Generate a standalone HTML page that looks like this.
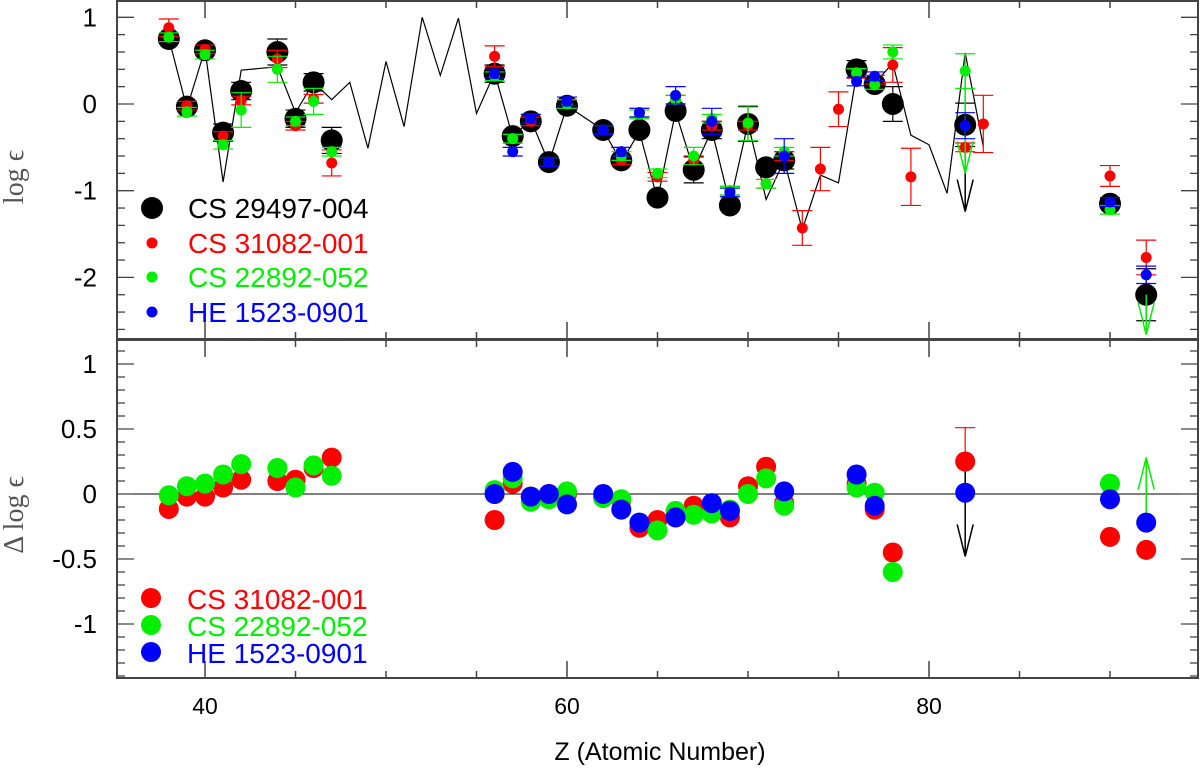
<!DOCTYPE html>
<html><head><meta charset="utf-8"><style>
html,body{margin:0;padding:0;background:#fff;}
svg{display:block;font-family:"Liberation Sans",sans-serif;}
</style></head><body>
<svg id="chart" width="1200" height="774" viewBox="0 0 1200 774" xmlns="http://www.w3.org/2000/svg">
<g id="grid"></g>
<g id="marks"></g>
<g id="frames"></g>
<text x="660" y="760" font-size="25" text-anchor="middle">Z (Atomic Number)</text>
<text transform="translate(23,177) rotate(-90)" font-size="28" text-anchor="middle" fill="#555" font-family="Liberation Serif, serif">log ϵ</text>
<text transform="translate(23,515) rotate(-90)" font-size="28" text-anchor="middle" fill="#555" font-family="Liberation Serif, serif">Δ log ϵ</text>
<g>
<circle cx="152" cy="208" r="11" fill="#000"/><text x="188" y="218" font-size="28" fill="#000">CS 29497-004</text>
<circle cx="152" cy="243" r="5.5" fill="#f00"/><text x="188" y="253" font-size="28" fill="#f00">CS 31082-001</text>
<circle cx="152" cy="277" r="5.5" fill="#0e0"/><text x="188" y="287" font-size="28" fill="#0e0">CS 22892-052</text>
<circle cx="152" cy="312" r="5.5" fill="#00f"/><text x="188" y="322" font-size="28" fill="#00f">HE 1523-0901</text>
</g>
<g>
<circle cx="151" cy="598" r="10" fill="#f00"/><text x="187" y="609" font-size="28" fill="#f00">CS 31082-001</text>
<circle cx="151" cy="625" r="10" fill="#0e0"/><text x="187" y="636" font-size="28" fill="#0e0">CS 22892-052</text>
<circle cx="151" cy="652" r="10" fill="#00f"/><text x="187" y="663" font-size="28" fill="#00f">HE 1523-0901</text>
</g>
</svg>
<script>
// solar r-process scaled pattern
const solarZ=[38,39,40,41,42,43,44,45,46,47,48,49,50,51,52,53,54,55,56,57,58,59,60,61,62,63,64,65,66,67,68,69,70,71,72,73,74,75,76,77,78,79,80,81,82,83];
const solarV=[0.76,-0.05,0.63,-0.9,0.39,0.41,0.43,-0.1,0.25,0.05,0.25,-0.51,0.49,-0.26,1.0,0.33,0.99,-0.11,0.36,-0.38,-0.18,-0.68,-0.02,-0.16,-0.3,-0.67,-0.32,-1.1,-0.09,-0.76,-0.3,-1.15,-0.22,-1.1,-0.65,-1.45,-0.82,-0.91,0.35,0.24,0.47,-0.36,-0.47,-1.03,0.59,-0.49];
const blackZ=[38,39,40,41,42,44,45,46,47,56,57,58,59,60,62,63,64,65,66,67,68,69,70,71,72,76,77,78,82,90,92];
const blackV=[0.75,-0.03,0.62,-0.33,0.15,0.6,-0.17,0.25,-0.42,0.35,-0.37,-0.2,-0.67,-0.02,-0.3,-0.65,-0.3,-1.08,-0.08,-0.76,-0.3,-1.17,-0.23,-0.73,-0.65,0.4,0.23,0.0,-0.24,-1.15,-2.2];
const blackE=[0.05,0.03,0.03,0.1,0.1,0.15,0.1,0.1,0.15,0.1,0.05,0.05,0.05,0.05,0.05,0.05,0.05,0.05,0.05,0.15,0.1,0.05,0.2,0.05,0.1,0.1,0.05,0.2,0.25,0.05,0.3];
const redZ=[38,39,40,41,42,44,45,46,47,56,57,58,59,60,62,63,64,65,66,67,68,69,70,71,72,73,74,75,76,77,78,79,82,83,90,92];
const redV=[0.88,-0.02,0.63,-0.37,0.04,0.52,-0.25,0.06,-0.68,0.55,-0.4,-0.2,-0.67,0.0,-0.3,-0.65,-0.1,-0.84,0.05,-0.65,-0.25,-1.0,-0.25,-0.92,-0.6,-1.43,-0.75,-0.06,0.35,0.28,0.45,-0.84,-0.5,-0.23,-0.83,-1.77];
const redE=[0.1,0.05,0.05,0.05,0.05,0.1,0.05,0.05,0.15,0.12,0.05,0.05,0.05,0.05,0.05,0.05,0.05,0.05,0.05,0.05,0.05,0.05,0.05,0.05,0.05,0.2,0.25,0.2,0.05,0.05,0.2,0.33,0.05,0.33,0.12,0.2];
const greenZ=[38,39,40,41,42,44,45,46,47,56,57,58,59,60,62,63,64,65,66,67,68,69,70,71,72,76,77,78,82,90];
const greenV=[0.77,-0.09,0.57,-0.47,-0.07,0.4,-0.2,0.03,-0.55,0.32,-0.4,-0.17,-0.67,0.0,-0.3,-0.6,-0.12,-0.8,0.05,-0.6,-0.17,-1.0,-0.22,-0.92,-0.55,0.36,0.22,0.6,0.38,-1.22];
const greenE=[0.05,0.05,0.05,0.05,0.2,0.15,0.05,0.15,0.05,0.05,0.05,0.05,0.05,0.05,0.05,0.05,0.05,0.05,0.05,0.1,0.05,0.05,0.2,0.05,0.05,0.05,0.05,0.08,0.2,0.05];
const blueZ=[56,57,58,59,60,62,63,64,66,68,69,72,76,77,82,90,92];
const blueV=[0.35,-0.55,-0.17,-0.67,0.03,-0.3,-0.55,-0.1,0.1,-0.2,-1.02,-0.6,0.26,0.32,-0.25,-1.13,-1.97];
const blueE=[0.05,0.05,0.05,0.05,0.05,0.05,0.05,0.05,0.1,0.15,0.05,0.2,0.05,0.05,0.15,0.05,0.1];
// residuals
const dRedZ=[38,39,40,41,42,44,45,46,47,56,57,58,59,60,62,63,64,65,66,67,68,69,70,71,72,76,77,78,82,90,92];
const dRedV=[-0.115,-0.02,-0.02,0.05,0.11,0.1,0.11,0.2,0.28,-0.2,0.08,-0.02,0.0,0.0,-0.03,-0.05,-0.26,-0.2,-0.18,-0.09,-0.1,-0.18,0.06,0.21,-0.07,0.08,-0.12,-0.45,0.25,-0.33,-0.43];
const dGreenZ=[38,39,40,41,42,44,45,46,47,56,57,58,59,60,62,63,64,65,66,67,68,69,70,71,72,76,77,78,90];
const dGreenV=[-0.01,0.06,0.08,0.15,0.23,0.2,0.05,0.22,0.14,0.03,0.12,-0.06,-0.04,0.02,-0.03,-0.04,-0.22,-0.28,-0.13,-0.16,-0.15,-0.12,0.0,0.12,-0.09,0.05,0.01,-0.6,0.08];
const dBlueZ=[56,57,58,59,60,62,63,64,66,68,69,72,76,77,82,90,92];
const dBlueV=[0.0,0.17,-0.02,0.0,-0.08,0.0,-0.12,-0.22,-0.18,-0.07,-0.13,0.02,0.15,-0.09,0.01,-0.04,-0.22];
const xTicks=[40,60,80];

const NS="http://www.w3.org/2000/svg";
const X=z=>205+(z-40)*18.1;
const YT=v=>104-v*86.7;
const YB=v=>494-v*130;
const marks=document.getElementById('marks');
const grid=document.getElementById('grid');
const frames=document.getElementById('frames');
function mk(tag,attrs,parent){const e=document.createElementNS(NS,tag);for(const k in attrs)e.setAttribute(k,attrs[k]);parent.appendChild(e);return e;}

const L=117,R=1198,T1=1,B1=339,T2=340,B2=678;
let f=mk('rect',{x:L,y:T1,width:R-L,height:B1-T1,fill:'none',stroke:'#444','stroke-width':2},frames);


f=mk('rect',{x:L,y:T2,width:R-L,height:B2-T2,fill:'none',stroke:'#444','stroke-width':2},frames);



for(let z=40;z<=90;z+=5){
  const len=(z%20===0)?17:7;
  const x=X(z);
  [[T1,1],[B1,-1],[T2,1],[B2,-1]].forEach(([y,d])=>{
    const t=mk('line',{x1:x,x2:x,y1:y,y2:y+d*len,stroke:'#444','stroke-width':1.5},frames);
    
    
  });
}
xTicks.forEach(z=>{
  const t=mk('text',{x:X(z),y:714,'font-size':23,'text-anchor':'middle'},frames);
  t.textContent=z;
  
  
});
for(let i=-13;i<=6;i++){
  const v=i*0.2;const y=YT(v);if(y<T1+1||y>B1-1)continue;
  const len=(i%5===0)?17:8;
  [[L,1],[R,-1]].forEach(([x,d])=>{
    const t=mk('line',{x1:x,x2:x+d*len,y1:y,y2:y,stroke:'#444','stroke-width':1.3},frames);
    
    
  });
}
[1,0,-1,-2].forEach(v=>{
  const t=mk('text',{x:97,y:YT(v)+9,'font-size':26,'text-anchor':'end'},frames);
  t.textContent=v;
  
  
});
for(let i=-14;i<=11;i++){
  const v=i*0.1;const y=YB(v);if(y<T2+1||y>B2-1)continue;
  const len=(i%5===0)?17:8;
  [[L,1],[R,-1]].forEach(([x,d])=>{
    const t=mk('line',{x1:x,x2:x+d*len,y1:y,y2:y,stroke:'#444','stroke-width':1.3},frames);
    
    
  });
}
[[1,'1'],[0.5,'0.5'],[0,'0'],[-0.5,'-0.5'],[-1,'-1']].forEach(([v,s])=>{
  const t=mk('text',{x:97,y:YB(v)+9,'font-size':26,'text-anchor':'end'},frames);
  t.textContent=s;
  
  
});
let zl=mk('line',{x1:L,x2:R,y1:YB(0),y2:YB(0),stroke:'#000','stroke-width':1},grid);



let pl=mk('polyline',{points:solarZ.map((z,i)=>X(z)+','+YT(solarV[i])).join(' '),fill:'none',stroke:'#000','stroke-width':1.2},marks);



function arrow(x,y1,y2,color,name){
  const g=mk('g',{stroke:color,'stroke-width':1.5,fill:'none'},marks);
  
  
  mk('line',{x1:x,x2:x,y1:y1,y2:y2},g);
  const d=y2>y1?-1:1;
  mk('polyline',{points:(x-8)+','+(y2+d*32)+' '+x+','+y2+' '+(x+8)+','+(y2+d*32)},g);
}
function series(Zs,Vs,Es,color,r,Y,name){
  Zs.forEach((z,i)=>{
    const x=X(z),y=Y(Vs[i]);
    if(Es){
      const e=Es[i];
      const g=mk('g',{stroke:color,'stroke-width':1.2},marks);
      
      
      mk('line',{x1:x,x2:x,y1:Y(Vs[i]+e),y2:Y(Vs[i]-e)},g);
      mk('line',{x1:x-10,x2:x+10,y1:Y(Vs[i]+e),y2:Y(Vs[i]+e)},g);
      mk('line',{x1:x-10,x2:x+10,y1:Y(Vs[i]-e),y2:Y(Vs[i]-e)},g);
    }
    const c=mk('circle',{cx:x,cy:y,r:r,fill:color},marks);
    
    
  });
}
series(blackZ,blackV,blackE,'#000',11,YT,'cs29497');
arrow(X(82),YT(-0.24),YT(-1.24),'#000','cs29497-upper-limit-arrow');
series(redZ,redV,redE,'#f00',5.5,YT,'cs31082');
arrow(X(82),YT(0.38),YT(-0.8),'#0e0','cs22892-upper-limit-arrow');
arrow(X(92),YT(-2.2),YT(-2.66),'#0e0','cs22892-u-limit-arrow');
series(greenZ,greenV,greenE,'#0e0',5.5,YT,'cs22892');
series(blueZ,blueV,blueE,'#00f',5.5,YT,'he1523');

let eb=mk('g',{stroke:'#f00','stroke-width':1.2},marks);


mk('line',{x1:X(82),x2:X(82),y1:YB(0.51),y2:YB(0.25)},eb);
mk('line',{x1:X(82)-10,x2:X(82)+10,y1:YB(0.51),y2:YB(0.51)},eb);
arrow(X(82),YB(0.25),YB(-0.48),'#000','residual-pb-limit-arrow');
arrow(X(92),YB(-0.15),YB(0.28),'#0e0','residual-u-limit-arrow');
series(dRedZ,dRedV,null,'#f00',10,YB,'residual-cs31082');
series(dGreenZ,dGreenV,null,'#0e0',10,YB,'residual-cs22892');
series(dBlueZ,dBlueV,null,'#00f',10,YB,'residual-he1523');
</script>
</body></html>
